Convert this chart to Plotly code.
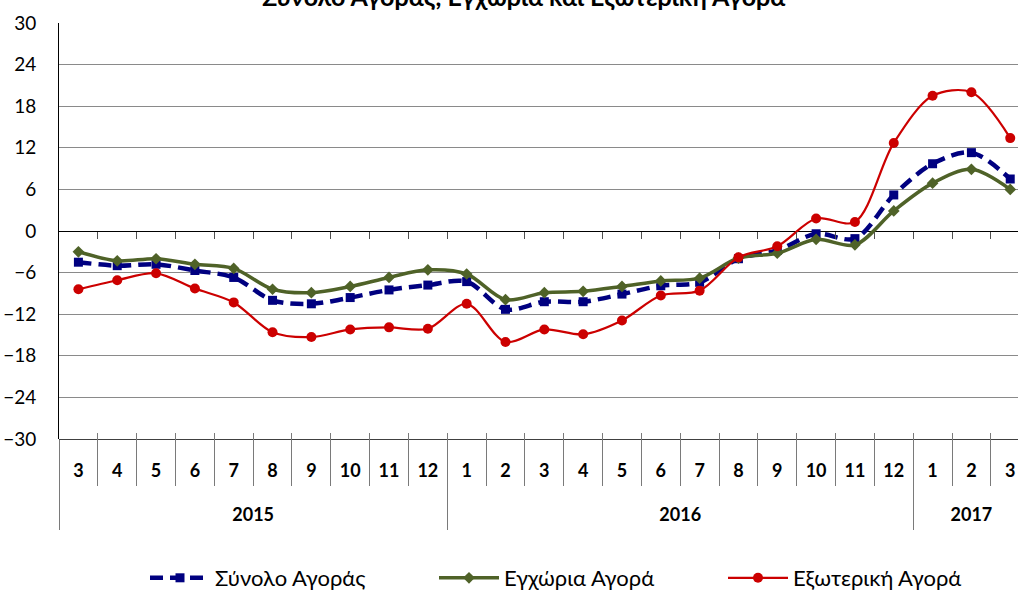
import plotly.graph_objects as go

# ---- data ----
years = ["2015"] * 10 + ["2016"] * 12 + ["2017"] * 3
months = ["3", "4", "5", "6", "7", "8", "9", "10", "11", "12",
          "1", "2", "3", "4", "5", "6", "7", "8", "9", "10", "11", "12",
          "1", "2", "3"]

total_market = [-4.5, -5.0, -4.8, -5.7, -6.7, -10.0, -10.5, -9.6, -8.5, -7.8,
                -7.3, -11.3, -10.2, -10.2, -9.1, -7.9, -7.4, -4.0, -2.8, -0.4,
                -1.1, 5.2, 9.7, 11.3, 7.5]
domestic_market = [-3.0, -4.3, -4.0, -4.8, -5.4, -8.4, -8.9, -8.0, -6.7, -5.6,
                   -6.2, -9.9, -8.9, -8.7, -8.0, -7.2, -6.8, -3.9, -3.2, -1.2,
                   -2.0, 2.9, 6.9, 8.9, 6.0]
foreign_market = [-8.4, -7.1, -6.1, -8.3, -10.3, -14.6, -15.3, -14.2, -13.9, -14.1,
                  -10.5, -16.0, -14.2, -14.9, -12.9, -9.3, -8.6, -3.8, -2.2, 1.8,
                  1.3, 12.7, 19.5, 20.0, 13.4]

series_names = ["Σύνολο Αγοράς", "Εγχώρια Αγορά", "Εξωτερική Αγορά"]
title_text = "Σύνολο Αγοράς, Εγχώρια και Εξωτερική Αγορά"
y_ticks = [-30, -24, -18, -12, -6, 0, 6, 12, 18, 24, 30]

FONT = "Lato"
W, H = 1018, 591
M_L, M_T = 59, 23
PLOT_BOTTOM = 439          # pixel row of the -30 line
n = len(months)
x_pos = list(range(n))                        # category slots
boundaries = [i + 0.5 for i in range(n - 1)]  # between months

# year groups (centres and edges) derived from the year list
year_names, year_start, year_end = [], [], []
for i, y in enumerate(years):
    if not year_names or year_names[-1] != y:
        year_names.append(y)
        year_start.append(i)
        year_end.append(i)
    else:
        year_end[-1] = i
year_centres = [(s + e) / 2 for s, e in zip(year_start, year_end)]
year_edges = [s - 0.5 for s in year_start]

xr = [-0.5, 24.2]
yr = [-30, 30]
paper_h = H - M_T
def prow(row):
    """pixel row -> paper fraction"""
    return (H - row) / paper_h
y0 = prow(PLOT_BOTTOM)
yzero = y0 + (1 - y0) * (0 - yr[0]) / (yr[1] - yr[0])

fig = go.Figure()
fig.add_trace(go.Scatter(
    x=x_pos, y=total_market, name=series_names[0], xaxis="x",
    mode="lines+markers", line=dict(color="#000080", width=4.5, dash="13px,7px", shape="spline", smoothing=0.9),
    marker=dict(symbol="square", size=9, color="#000080"),
))
fig.add_trace(go.Scatter(
    x=x_pos, y=domestic_market, name=series_names[1], xaxis="x2",
    mode="lines+markers", line=dict(color="#4F6228", width=3.5, shape="spline", smoothing=0.9),
    marker=dict(symbol="diamond", size=9, color="#4F6228"),
))
fig.add_trace(go.Scatter(
    x=x_pos, y=foreign_market, name=series_names[2], xaxis="x3",
    mode="lines+markers", line=dict(color="#CC0000", width=2.2, shape="spline", smoothing=0.9),
    marker=dict(symbol="circle", size=10, color="#CC0000"),
))

fig.add_annotation(
    text="<b>" + title_text + "</b>", xref="paper", yref="paper",
    x=(523 - M_L) / (W - M_L), y=prow(-4), xanchor="center", yanchor="middle",
    showarrow=False, font=dict(family=FONT, size=25, color="black"),
)

fig.update_layout(
    width=W, height=H,
    margin=dict(l=M_L, r=0, t=M_T, b=0, autoexpand=False),
    paper_bgcolor="white", plot_bgcolor="white",
    font=dict(family=FONT, size=18, color="black"),
    showlegend=True,
    legend=dict(orientation="h", x=1 - 6 / (W - M_L), xanchor="right",
                y=prow(578), yanchor="middle",
                font=dict(family=FONT, size=22, color="black"),
                entrywidth=214, entrywidthmode="pixels", itemwidth=60),
    # month labels + month separators (crossing the bottom axis)
    xaxis=dict(
        type="linear", range=xr, showgrid=False, zeroline=False, showline=False,
        anchor="free", position=prow(PLOT_BOTTOM - 7), automargin=False,
        tickmode="array", tickvals=x_pos, ticktext=months, ticks="",
        ticklabelstandoff=26,
        tickfont=dict(family=FONT, size=18, color="black", weight="bold"),
        minor=dict(tickmode="array", tickvals=boundaries, ticks="outside",
                   ticklen=53, tickcolor="#7a7a7a", tickwidth=1, showgrid=False),
    ),
    # small ticks under the zero line
    xaxis2=dict(
        type="linear", overlaying="x", anchor="free", position=yzero, range=xr,
        showgrid=False, zeroline=False, showline=False, showticklabels=False,
        automargin=False, tickmode="array", tickvals=boundaries,
        ticks="outside", ticklen=7, tickcolor="#505050",
    ),
    # bottom axis line, year labels + year dividers
    xaxis3=dict(
        type="linear", overlaying="x", anchor="free", position=y0, range=xr,
        showgrid=False, zeroline=False, showline=True, linecolor="#404040", linewidth=1,
        automargin=False, tickmode="array", tickvals=year_centres, ticktext=year_names,
        ticks="", ticklabelstandoff=59,
        tickfont=dict(family=FONT, size=18, color="black", weight="bold"),
        minor=dict(tickmode="array", tickvals=year_edges, ticks="outside",
                   ticklen=90, tickcolor="#7a7a7a", tickwidth=1, showgrid=False),
    ),
    yaxis=dict(
        domain=[y0, 1], anchor="x", range=yr, tickmode="array", tickvals=y_ticks,
        showgrid=True, gridcolor="#8a8a8a", gridwidth=1,
        zeroline=True, zerolinecolor="black", zerolinewidth=1,
        showline=True, linecolor="black", linewidth=1,
        ticks="", ticklabelstandoff=18, automargin=False,
        tickfont=dict(family=FONT, size=19, color="black"),
    ),
)

fig.write_html("out.html", post_script="document.body.style.margin='0px';",
               config={"displayModeBar": False})
